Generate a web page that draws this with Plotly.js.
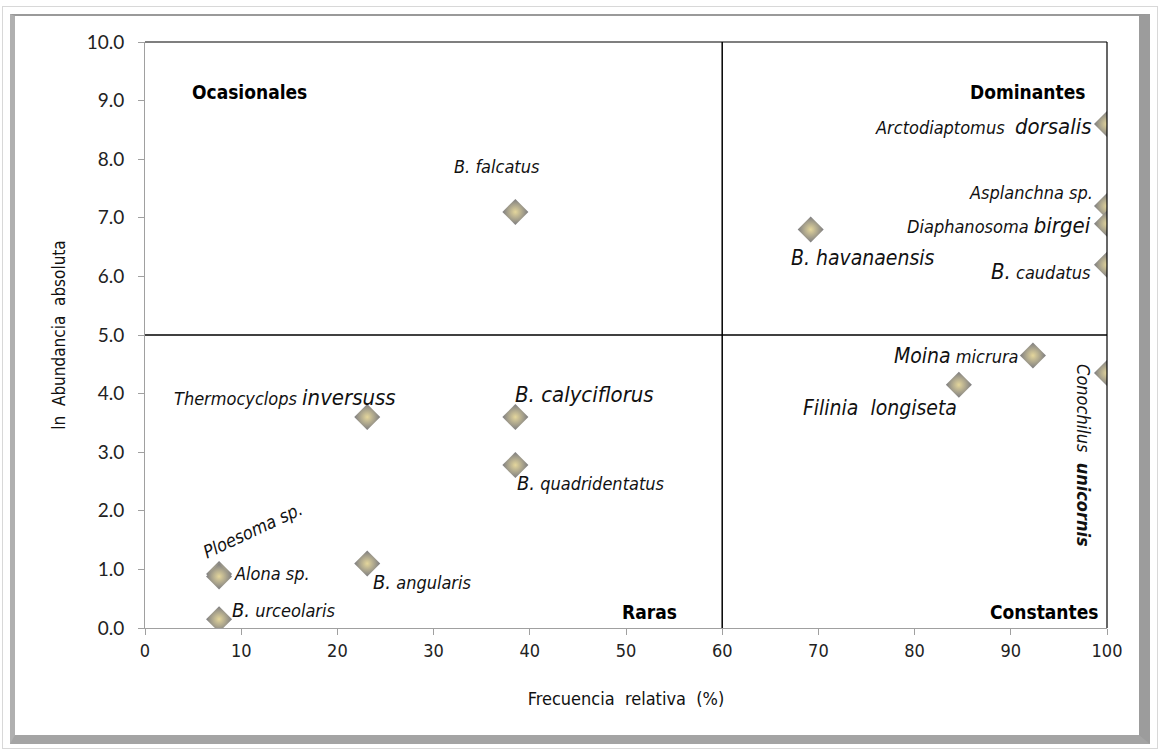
<!DOCTYPE html>
<html>
<head>
<meta charset="utf-8">
<script src="https://cdn.plot.ly/plotly-3.0.1.min.js"></script>
<style>
  html, body { margin: 0; padding: 0; background: #ffffff; }
  #wrap { position: relative; width: 1160px; height: 751px; overflow: hidden; }
  #outer { position: absolute; left: 2px; top: 6px; width: 1156px; height: 743px; border: 1px solid #d8d8d8; box-sizing: border-box; }
  #frame { position: absolute; left: 10px; top: 14px; width: 1140px; height: 730px; box-sizing: border-box;
           border-top: 2px solid #9a9a9a; border-left: 5px solid #b0b0b0; border-right: 11px solid #9c9c9c; border-bottom: 9px solid #a4a4a4; }
  #chart { position: absolute; left: 0; top: 0; width: 1160px; height: 751px; }
</style>
</head>
<body>
<div id="wrap">
  <div id="outer"></div>
  <div id="frame"></div>
  <div id="chart"></div>
</div>
<script>
// ---- data ----
const species = [
  "B. falcatus", "Arctodiaptomus dorsalis", "Asplanchna sp.", "Diaphanosoma birgei",
  "B. caudatus", "B. havanaensis", "Moina micrura", "Filinia longiseta",
  "Conochilus unicornis", "Thermocyclops inversuss", "B. calyciflorus", "B. quadridentatus",
  "Ploesoma sp.", "Alona sp.", "B. angularis", "B. urceolaris"
];
const freqRel = [38.5, 100, 100, 100, 100, 69.2, 92.3, 84.6, 100, 23.1, 38.5, 38.5, 7.7, 7.7, 23.1, 7.7];
const lnAbund = [7.1, 8.6, 7.2, 6.9, 6.2, 6.8, 4.65, 4.15, 4.35, 3.6, 3.6, 2.78, 0.92, 0.88, 1.1, 0.15];
const labelHtml = [
  "B. falcatus", "Arctodiaptomus  <span style='font-size:22px'>dorsalis</span>", "Asplanchna sp.",
  "Diaphanosoma <span style='font-size:22px'>birgei</span>", "<span style='font-size:22px'>B.</span> caudatus",
  "<span style='font-size:21px'>B. havanaensis</span>", "<span style='font-size:21px'>Moina</span> micrura",
  "<span style='font-size:21px'>Filinia  longiseta</span>", "Conochilus  <b>unicornis</b>",
  "Thermocyclops <span style='font-size:22px'>inversuss</span>", "<span style='font-size:22px'>B. calyciflorus</span>",
  "<span style='font-size:20px'>B.</span> quadridentatus", "Ploesoma sp.", "Alona sp.", "<span style='font-size:20px'>B.</span> angularis",
  "<span style='font-size:20px'>B.</span> urceolaris"
];
const xTicks = [0, 10, 20, 30, 40, 50, 60, 70, 80, 90, 100];
const yTicks = [0, 1, 2, 3, 4, 5, 6, 7, 8, 9, 10];
const yTickText = yTicks.map(v => v.toFixed(1));
const freqThreshold = 60;
const abundThreshold = 5;
const quadrants = ["Ocasionales", "Dominantes", "Raras", "Constantes"];

// ---- label placement (style only) ----
const labelStyle = [
  {xa: "center", xs: -18, ys: 45, ang: 0},
  {xa: "right", xs: -14, ys: -2, ang: 0},
  {xa: "right", xs: -12, ys: 14, ang: 0},
  {xa: "right", xs: -14, ys: -2, ang: 0},
  {xa: "right", xs: -14, ys: -7, ang: 0},
  {xa: "left", xs: -22, ys: -28, ang: 0},
  {xa: "right", xs: -12, ys: 0, ang: 0},
  {xa: "right", xs: 0, ys: -23, ang: 0},
  {xa: "center", xs: -23, ys: -82, ang: 90},
  {xa: "right", xs: 31, ys: 20, ang: 0},
  {xa: "left", xs: -2, ys: 23, ang: 0},
  {xa: "left", xs: 0, ys: -18, ang: 0},
  {xa: "center", xs: 33, ys: 44, ang: -25},
  {xa: "left", xs: 13, ys: 3, ang: 0},
  {xa: "left", xs: 4, ys: -18, ang: 0},
  {xa: "left", xs: 11, ys: 9, ang: 0}
];

const condFont = "'DejaVu Sans Condensed', 'Liberation Sans Narrow', 'Arial Narrow', sans-serif";
const labelFont = {family: condFont, size: 18, color: "#111", style: "italic"};

const annotations = species.map((s, i) => ({
  x: freqRel[i], y: lnAbund[i], xref: "x", yref: "y",
  text: labelHtml[i], showarrow: false,
  xanchor: labelStyle[i].xa, yanchor: "middle",
  xshift: labelStyle[i].xs, yshift: labelStyle[i].ys,
  textangle: labelStyle[i].ang,
  font: labelFont
}));

const quadPos = [
  {x: 0.047, y: 0.915, xa: "left"},
  {x: 0.979, y: 0.915, xa: "right"},
  {x: 0.555, y: 0.027, xa: "right"},
  {x: 0.993, y: 0.027, xa: "right"}
];
quadrants.forEach((q, i) => {
  annotations.push({
    x: quadPos[i].x, y: quadPos[i].y, xref: "paper", yref: "paper",
    text: "<b>" + q + "</b>", showarrow: false, xanchor: quadPos[i].xa, yanchor: "middle",
    font: {family: condFont, size: 19, color: "#000"}
  });
});

const trace = {
  type: "scatter", mode: "markers",
  x: freqRel, y: lnAbund, text: species, hoverinfo: "text+x+y",
  marker: {
    symbol: "diamond", size: 20, color: "#7c7c80",
    gradient: {type: "radial", color: "#e4d69c"},
    line: {width: 0}
  },
  showlegend: false
};

const layout = {
  width: 1160, height: 751,
  paper_bgcolor: "rgba(0,0,0,0)", plot_bgcolor: "#ffffff",
  margin: {l: 145, r: 53, t: 42, b: 123},
  xaxis: {
    range: [0, 100], tickvals: xTicks, ticktext: xTicks.map(String),
    showgrid: false, zeroline: false, showline: true, linecolor: "#a0a0a0", linewidth: 1,
    ticks: "outside", ticklen: 6, tickcolor: "#a0a0a0",
    tickfont: {family: condFont, size: 18, color: "#222"},
    title: {text: "Frecuencia  relativa  (%)", font: {family: condFont, size: 18, color: "#111"}, standoff: 32},
    fixedrange: true
  },
  yaxis: {
    range: [0, 10], tickvals: yTicks, ticktext: yTickText,
    showgrid: false, zeroline: false, showline: true, linecolor: "#a0a0a0", linewidth: 1,
    ticks: "outside", ticklen: 6, tickcolor: "#a0a0a0",
    tickfont: {family: "Lato, 'Open Sans', sans-serif", size: 19, color: "#222"},
    ticklabelstandoff: 10,
    title: {text: "ln  Abundancia  absoluta", font: {family: condFont, size: 17, color: "#111"}, standoff: 16},
    fixedrange: true
  },
  shapes: [
    {type: "line", xref: "x", yref: "paper", x0: freqThreshold, x1: freqThreshold, y0: 0, y1: 1, line: {color: "#000", width: 1.5}},
    {type: "line", xref: "paper", yref: "y", x0: 0, x1: 1, y0: abundThreshold, y1: abundThreshold, line: {color: "#000", width: 1.5}},
    {type: "line", xref: "paper", yref: "paper", x0: 0, x1: 1, y0: 1, y1: 1, line: {color: "#000", width: 1.2}},
    {type: "line", xref: "paper", yref: "paper", x0: 1, x1: 1, y0: 0, y1: 1, line: {color: "#000", width: 1.2}}
  ],
  annotations: annotations
};

Plotly.newPlot("chart", [trace], layout, {staticPlot: true, displayModeBar: false});
</script>
</body>
</html>
